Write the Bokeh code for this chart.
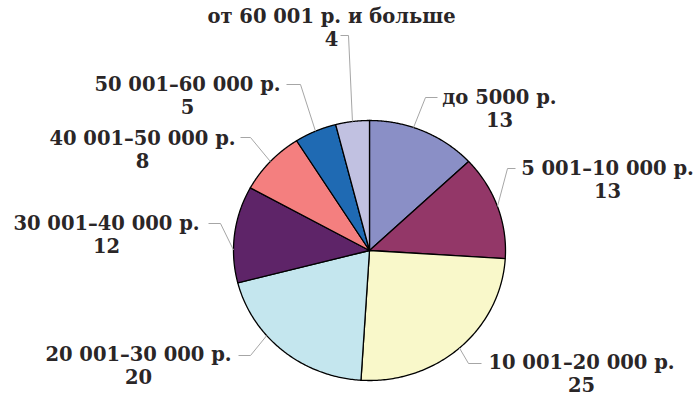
import numpy as np
from bokeh.plotting import figure
from bokeh.models import Range1d, ColumnDataSource
from bokeh.core.properties import value
from bokeh.embed import file_html
from bokeh.resources import INLINE

# ---- data ----
categories = ["до 5000 р.", "5 001–10 000 р.", "10 001–20 000 р.", "20 001–30 000 р.",
              "30 001–40 000 р.", "40 001–50 000 р.", "50 001–60 000 р.", "от 60 001 р. и больше"]
shares = [13, 13, 25, 20, 12, 8, 5, 4]
colors = ["#8A8FC6", "#933768", "#F9F8CA", "#C4E6EE", "#5E2468", "#F47F7F", "#1F6AB3", "#C1C1E1"]

# ---- layout (pixel coordinates, y downward) ----
W, H = 698, 397
cx, cy, rx, ry = 369, 250, 136, 130
# label block centre x, first-line y
label_pos = [(499, 97), (607, 168), (581, 362), (138, 354),
             (106, 223), (142, 138), (187, 84), (331, 16)]
# leader: horizontal segment from x0 to x1 at the label line y (y given), then to pie edge
leader_h = [(437, 425, 97), (515, 507, 168), (481, 468, 363), (238, 250, 355),
            (208, 220, 223), (240, 250, 137), (286, 300, 84), (340, 348, 35)]
angle_shift = [-4.5, 0, 0, 9.5, -7, 0, 0, 0]
line_gap = 22

p = figure(width=W, height=H, output_backend="svg", toolbar_location=None,
           x_range=Range1d(0, W), y_range=Range1d(H, 0), min_border=0,
           x_axis_location=None, y_axis_location=None)
p.grid.visible = False
p.outline_line_color = None
p.background_fill_color = "white"
p.border_fill_color = "white"

total = float(sum(shares))
cum = np.concatenate([[0], np.cumsum(shares)]) / total * 360.0

xs, ys = [], []
for i in range(len(shares)):
    th = np.radians(np.linspace(cum[i], cum[i + 1], 120))
    xs.append(np.concatenate([[cx], cx + rx * np.sin(th), [cx]]).tolist())
    ys.append(np.concatenate([[cy], cy - ry * np.cos(th), [cy]]).tolist())
p.patches(xs=xs, ys=ys, fill_color=colors, line_color="black", line_width=1.3, line_join="round")

# leader lines
lx, ly = [], []
for i in range(len(shares)):
    mid = np.radians((cum[i] + cum[i + 1]) / 2 + angle_shift[i])
    ex, ey = cx + rx * np.sin(mid), cy - ry * np.cos(mid)
    x0, x1, yy = leader_h[i]
    lx.append([x0, x1, ex])
    ly.append([yy, yy, ey])
p.multi_line(xs=lx, ys=ly, line_color="#A6A6A6", line_width=1)

src = ColumnDataSource(dict(
    x=[q[0] for q in label_pos],
    y1=[q[1] for q in label_pos],
    y2=[q[1] + line_gap for q in label_pos],
    t1=categories,
    t2=[str(v) for v in shares],
))
common = dict(text_align="center", text_baseline="middle", text_font=value("DejaVu Serif"),
              text_font_size="19.5px", text_font_style="bold", text_color="#2A2627")
p.text(x="x", y="y1", text="t1", source=src, **common)
p.text(x="x", y="y2", text="t2", source=src, **common)

open("out.html", "w").write(file_html(p, INLINE))
